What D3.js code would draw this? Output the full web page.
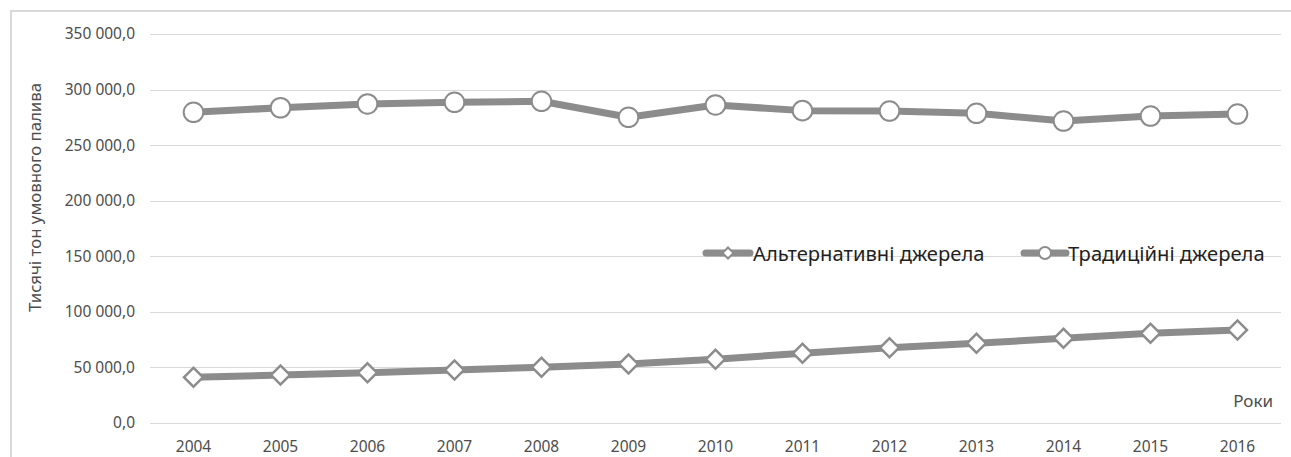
<!DOCTYPE html>
<html>
<head>
<meta charset="utf-8">
<script src="https://cdn.jsdelivr.net/npm/d3@7"></script>
<style>
  html, body { margin: 0; padding: 0; background: #fff; }
  svg { display: block; }
  text { font-family: "Noto Sans", "Open Sans", "DejaVu Sans", sans-serif; }
</style>
</head>
<body>
<svg id="chart" width="1291" height="457"></svg>
<script>
const years = ["2004","2005","2006","2007","2008","2009","2010","2011","2012","2013","2014","2015","2016"];
const alternative = [40900, 42950, 45000, 47400, 49900, 52900, 57100, 62500, 67500, 71500, 76000, 80500, 83500];
const traditional = [279500, 283600, 287000, 288500, 289400, 275000, 286100, 281000, 280600, 278600, 271600, 276100, 277900];
const yTicks = [0, 50000, 100000, 150000, 200000, 250000, 300000, 350000];
const yTickLabels = ["0,0", "50 000,0", "100 000,0", "150 000,0", "200 000,0", "250 000,0", "300 000,0", "350 000,0"];
const seriesNames = ["Альтернативні джерела", "Традиційні джерела"];
const yTitle = "Тисячі тон умовного палива";
const xTitle = "Роки";

const svg = d3.select("#chart");
const plotLeft = 150, plotRight = 1281, plotTop = 34, plotBottom = 422.7;
const lineColor = "#8c8c8c";
const textColor = "#4d4d4d";

// chart border
svg.append("rect")
  .attr("x", 11).attr("y", 11).attr("width", 1300).attr("height", 470)
  .attr("fill", "none").attr("stroke", "#d9d9d9").attr("stroke-width", 2);

const x = d3.scaleBand().domain(years).range([plotLeft, plotRight]);
const y = d3.scaleLinear().domain([0, 350000]).range([plotBottom, plotTop]);

// gridlines
svg.append("g").selectAll("line").data(yTicks).join("line")
  .attr("x1", plotLeft).attr("x2", plotRight)
  .attr("y1", d => Math.round(y(d)) + 0.5).attr("y2", d => Math.round(y(d)) + 0.5)
  .attr("stroke", "#d9d9d9").attr("stroke-width", 1);

// y axis
const yAxis = svg.append("g").attr("transform", `translate(${plotLeft},0)`)
  .call(d3.axisLeft(y).tickValues(yTicks).tickFormat((d, i) => yTickLabels[i]).tickSize(0).tickPadding(15));
yAxis.select(".domain").remove();
yAxis.selectAll("text").attr("fill", textColor).style("font-size", "15.5px")
  .style("font-family", "'Noto Sans', sans-serif");

// x axis
const xAxis = svg.append("g").attr("transform", `translate(0,${plotBottom})`)
  .call(d3.axisBottom(x).tickSize(0).tickPadding(18));
xAxis.select(".domain").remove();
xAxis.selectAll("text").attr("fill", textColor).style("font-size", "15.5px")
  .style("font-family", "'Noto Sans', sans-serif");

// axis titles
svg.append("text")
  .attr("transform", `translate(41,${(82 + 313) / 2}) rotate(-90)`)
  .attr("text-anchor", "middle")
  .attr("fill", textColor).style("font-size", "16.8px")
  .text(yTitle);

svg.append("text")
  .attr("x", 1273).attr("y", 407).attr("text-anchor", "end")
  .attr("fill", textColor).style("font-size", "17px")
  .text(xTitle);

const line = d3.line().x((d, i) => x(years[i]) + x.bandwidth() / 2).y(d => y(d));

function drawSeries(values, marker) {
  svg.append("path").datum(values)
    .attr("d", line)
    .attr("fill", "none").attr("stroke", lineColor).attr("stroke-width", 7)
    .attr("stroke-linejoin", "round").attr("stroke-linecap", "round");
  const g = svg.append("g");
  if (marker === "circle") {
    g.selectAll("circle").data(values).join("circle")
      .attr("cx", (d, i) => x(years[i]) + x.bandwidth() / 2)
      .attr("cy", d => y(d))
      .attr("r", 9.8)
      .attr("fill", "#fff").attr("stroke", lineColor).attr("stroke-width", 2);
  } else {
    const sym = d3.symbol().type(d3.symbolSquare).size(180);
    g.selectAll("path").data(values).join("path")
      .attr("d", sym)
      .attr("transform", (d, i) => `translate(${x(years[i]) + x.bandwidth() / 2},${y(d)}) rotate(45)`)
      .attr("fill", "#fff").attr("stroke", lineColor).attr("stroke-width", 2.5);
  }
}

drawSeries(alternative, "diamond");
drawSeries(traditional, "circle");

// legend
const legendItems = [
  { name: seriesNames[0], x0: 706, x1: 750, marker: "diamond", tx: 753 },
  { name: seriesNames[1], x0: 1024, x1: 1066, marker: "circle", tx: 1068 }
];
const ly = 253;
legendItems.forEach(it => {
  svg.append("line")
    .attr("x1", it.x0).attr("x2", it.x1).attr("y1", ly).attr("y2", ly)
    .attr("stroke", lineColor).attr("stroke-width", 7).attr("stroke-linecap", "round");
  const cx = (it.x0 + it.x1) / 2;
  if (it.marker === "circle") {
    svg.append("circle").attr("cx", cx).attr("cy", ly).attr("r", 6)
      .attr("fill", "#fff").attr("stroke", lineColor).attr("stroke-width", 2);
  } else {
    svg.append("path").attr("d", d3.symbol().type(d3.symbolSquare).size(60)())
      .attr("transform", `translate(${cx},${ly}) rotate(45)`)
      .attr("fill", "#fff").attr("stroke", lineColor).attr("stroke-width", 2);
  }
  svg.append("text")
    .attr("x", it.tx).attr("y", ly + 7.5)
    .attr("fill", "#1f1f1f").style("font-size", "20.2px")
    .text(it.name);
});
</script>
</body>
</html>
